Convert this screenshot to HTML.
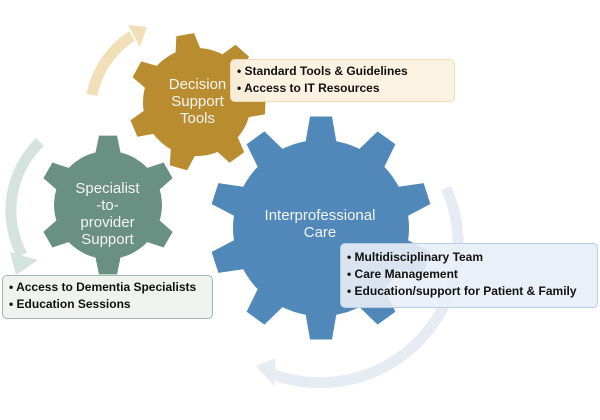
<!DOCTYPE html>
<html><head><meta charset="utf-8"><style>
html,body{margin:0;padding:0;background:#fff;width:600px;height:420px;overflow:hidden}
svg{position:absolute;left:0;top:0}
.box{position:absolute;font-family:"Liberation Sans",sans-serif;font-weight:bold;font-size:12px;color:#111;line-height:17px;box-sizing:border-box;border-radius:5px;padding:3px 6px}
.box div:before{content:"• ";}
.lbl{position:absolute;font-family:"Liberation Sans",sans-serif;color:#f4f4f4;text-align:center;font-size:15px;line-height:17px}
</style></head><body>
<svg id="s" width="600" height="420" viewBox="0 0 600 420">
<path d="M92,95 A90,90 0 0 1 132,36" fill="none" stroke="#f1dfba" stroke-width="11"/>
<polygon points="128,25 147,27 140,47" fill="#f1dfba"/>
<path d="M40,142 A95,95 0 0 0 22,255" fill="none" stroke="#d5e3df" stroke-width="11"/>
<polygon points="10,252 38,260 16,275" fill="#d5e3df"/>
<path d="M446,188 A138,138 0 0 1 272,374" fill="none" stroke="#e6ecf4" stroke-width="11"/>
<polygon points="256,366 276,358 274,386" fill="#e6ecf4"/>
<g id="gears"></g>
</svg>
<div class="lbl" style="left:150px;top:76px;width:95px">Decision<br>Support<br>Tools</div>
<div class="lbl" style="left:55px;top:180px;width:105px">Specialist<br>-to-<br>provider<br>Support</div>
<div class="lbl" style="left:240px;top:207px;width:160px">Interprofessional<br>Care</div>
<div class="box" style="left:230px;top:59px;width:225px;height:43px;background:rgba(251,241,223,0.95);border:1px solid #efdcb5">
<div>Standard Tools &amp; Guidelines</div><div>Access to IT Resources</div></div>
<div class="box" style="left:2px;top:275px;width:211px;height:44px;background:rgba(237,242,239,0.95);border:1px solid #9dbbb0">
<div>Access to Dementia Specialists</div><div>Education Sessions</div></div>
<div class="box" style="left:340px;top:243px;width:258px;height:65px;background:rgba(232,238,246,0.9);border:1px solid #b9cde3;padding-top:5px">
<div>Multidisciplinary Team</div><div>Care Management</div><div>Education/support for Patient &amp; Family</div></div>
<script>
function gear(cx,cy,rb,rt,n,start,tw,col){
 var pts=[],step=2*Math.PI/n;
 for(var i=0;i<n;i++){
  var a=start*Math.PI/180+i*step;
  var hw=tw/2, hb=hw*1.4;
  var ab=hb/rb, at=hw/rt;
  pts.push([cx+rb*Math.cos(a-ab),cy+rb*Math.sin(a-ab)]);
  pts.push([cx+rt*Math.cos(a-at),cy+rt*Math.sin(a-at)]);
  pts.push([cx+rt*Math.cos(a+at),cy+rt*Math.sin(a+at)]);
  pts.push([cx+rb*Math.cos(a+ab),cy+rb*Math.sin(a+ab)]);
  var a2=a+step-ab, a1=a+ab;
  for(var k=1;k<6;k++){var t=a1+(a2-a1)*k/6;pts.push([cx+rb*Math.cos(t),cy+rb*Math.sin(t)]);}
 }
 return '<polygon fill="'+col+'" points="'+pts.map(function(p){return p[0].toFixed(1)+','+p[1].toFixed(1)}).join(' ')+'"/>';
}
document.getElementById('gears').innerHTML=
 gear(197,102,54,69,7,-100,18,'#b98d2f')+
 gear(108,205,54,70,6,-90,18,'#6a8f83')+
 gear(321,228,88,112,10,-90,22,'#5088b9');
</script>
</body></html>
